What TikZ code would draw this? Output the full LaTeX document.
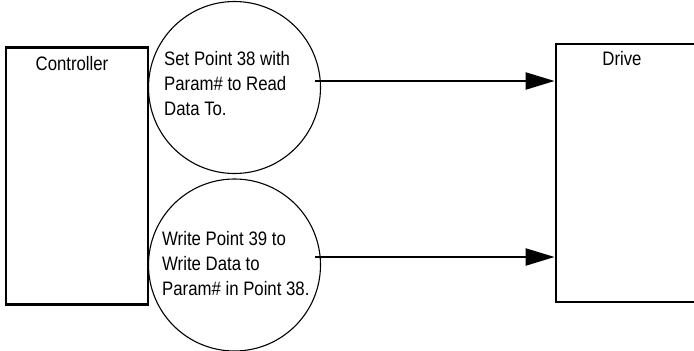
\documentclass[tikz,border=0pt]{standalone}
\usepackage{fontspec}
\setmainfont{Liberation Sans}[FakeStretch=0.86]
\usetikzlibrary{arrows.meta}
\begin{document}
\begin{tikzpicture}[x=1pt,y=-1pt,
  box/.style={draw,line width=2.8pt,rectangle,inner sep=0pt},
  bubble/.style={draw,line width=1.1pt,circle,inner sep=0pt,minimum size=172pt},
  txt/.style={anchor=base west,inner sep=0pt,font=\fontsize{19.5}{25}\selectfont},
  ctxt/.style={anchor=base,inner sep=0pt,font=\fontsize{19.5}{25}\selectfont},
  flow/.style={line width=2.3pt,-{Triangle[length=29pt,width=17pt]}}]
\useasboundingbox (0,0) rectangle (694,351);
\clip (0,0) rectangle (694,351);
% boxes
\node[box,minimum width=142pt,minimum height=257pt] (ctrl) at (77,176) {};
\node[box,minimum width=160pt,minimum height=258pt] (drive) at (636,173) {};
\node[ctxt] (ctrltxt) at (72,70) {Controller};
\node[ctxt] (drivetxt) at (622,65) {Drive};
% circles
\node[bubble] (c1) at (234.5,87.5) {};
\node[bubble] (c2) at (234.5,265) {};
\node[txt] (t1a) at (164,65) {Set Point 38 with};
\node[txt] (t1b) at (164,90) {Param\# to Read};
\node[txt] (t1c) at (164,115) {Data To.};
\node[txt] (t2a) at (162,245) {Write Point 39 to};
\node[txt] (t2b) at (162,270) {Write Data to};
\node[txt] (t2c) at (162,295) {Param\# in Point 38.};
% arrows
\coordinate (s1) at (315,81);
\coordinate (s2) at (315,257);
\draw[flow] (s1) -- (drive.west |- s1);
\draw[flow] (s2) -- (drive.west |- s2);
\end{tikzpicture}
\end{document}
